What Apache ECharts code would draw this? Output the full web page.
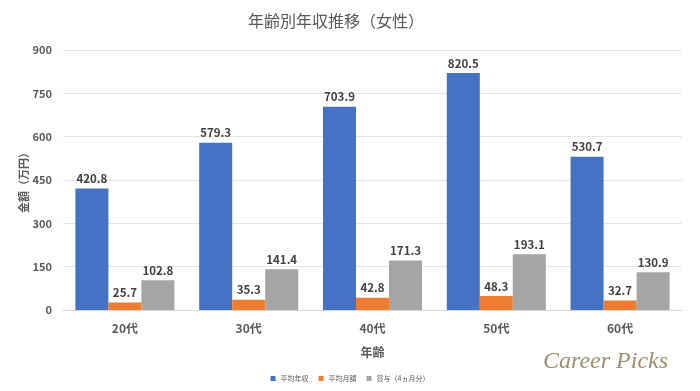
<!DOCTYPE html>
<html><head><meta charset="utf-8">
<script src="https://cdn.jsdelivr.net/npm/echarts@6/dist/echarts.min.js"></script>
<style>html,body{margin:0;padding:0;background:#fff}#c{width:700px;height:391px}</style>
</head><body><div id="c"></div>
<script>
const categories = ['20代','30代','40代','50代','60代'];
const seriesNames = ['平均年収','平均月額','賞与（4ヵ月分）'];
const annual = [420.8, 579.3, 703.9, 820.5, 530.7];
const monthly = [25.7, 35.3, 42.8, 48.3, 32.7];
const bonus = [102.8, 141.4, 171.3, 193.1, 130.9];
const yTicks = [0, 150, 300, 450, 600, 750, 900];

const colors = ['#4472C4', '#ED7D31', '#A5A5A5'];
const chart = echarts.init(document.getElementById('c'));
const font = '"Noto Sans CJK JP", "Noto Sans", sans-serif';
const lbl = {show:true, position:'top', color:'#404040', fontWeight:'bold', fontSize:11.5, fontFamily:font, distance:4,
  formatter: p => p.value.toFixed(1)};
chart.setOption({
  animation:false,
  textStyle:{fontFamily:font},
  title:{text:'年齢別年収推移（女性）', left:243, top:8, textStyle:{fontSize:16, fontWeight:'normal', color:'#595959', fontFamily:font}},
  legend:{bottom:4, left:'center', itemWidth:5, itemHeight:5, itemGap:10, icon:'rect',
    textStyle:{fontSize:7, color:'#595959', fontFamily:font}, data:seriesNames},
  grid:{left:63, right:18, top:50, bottom:81, containLabel:false},
  xAxis:{type:'category', data:categories,
    axisLine:{lineStyle:{color:'#D9D9D9'}}, axisTick:{show:false},
    axisLabel:{color:'#595959', fontSize:12, fontWeight:'bold', margin:12, fontFamily:font},
    name:'年齢', nameLocation:'middle', nameGap:36, nameTextStyle:{color:'#595959', fontSize:12, fontWeight:'bold', fontFamily:font}},
  yAxis:{type:'value', min:yTicks[0], max:yTicks[yTicks.length-1], interval:150,
    axisLine:{show:false}, axisTick:{show:false},
    splitLine:{lineStyle:{color:'#E5E5E5'}},
    axisLabel:{color:'#595959', fontSize:11, fontWeight:'bold', margin:11, fontFamily:font},
    name:'金額（万円）', nameLocation:'middle', nameGap:34, nameRotate:90, nameMoveOverlap:false,
    nameTextStyle:{color:'#595959', fontSize:11, fontWeight:'bold', fontFamily:font}},
  series:[
    {name:seriesNames[0], type:'bar', data:annual, itemStyle:{color:colors[0]}, barGap:'0%', barCategoryGap:'20%', label:lbl},
    {name:seriesNames[1], type:'bar', data:monthly, itemStyle:{color:colors[1]}, label:lbl},
    {name:seriesNames[2], type:'bar', data:bonus, itemStyle:{color:colors[2]}, label:lbl}
  ],
  graphic:[{type:'text', left:543, top:350, style:{text:'Career Picks', fill:'#9C8F6E',
    font:'italic 24px "Liberation Serif", serif'}}]
});
</script></body></html>
